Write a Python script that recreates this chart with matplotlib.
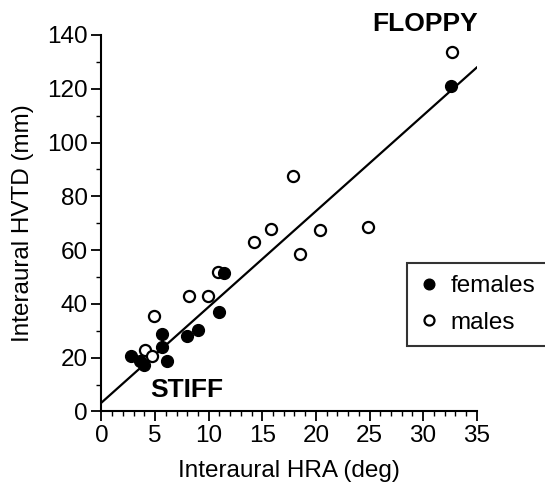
import matplotlib
matplotlib.use('Agg')
import matplotlib.pyplot as plt
import numpy as np

plt.rcParams['font.family'] = ['Liberation Sans', 'DejaVu Sans']

# males (open circles)
male_hra = [17.9, 15.8, 14.25, 20.4, 18.5, 24.9, 10.85, 8.2, 9.9, 4.9, 4.05, 4.7, 32.7]
male_hvtd = [87.7, 67.8, 63.1, 67.4, 58.7, 68.5, 51.7, 42.9, 42.9, 35.5, 22.9, 20.6, 133.6]

# females (filled circles)
female_hra = [11.45, 11.0, 5.65, 9.0, 8.0, 5.65, 2.8, 3.6, 4.0, 6.1, 32.6]
female_hvtd = [51.4, 36.9, 28.7, 30.3, 28.1, 24.1, 20.7, 18.6, 17.2, 18.9, 121.0]

# regression line
fit_slope = 3.56
fit_intercept = 3.3

fig = plt.figure(figsize=(5.45, 4.86), dpi=100)
ax = fig.add_axes([0.1862, 0.1533, 0.8747 - 0.1862, 0.928 - 0.1533])

xfit = np.array([0, 35])
ax.plot(xfit, fit_intercept + fit_slope * xfit, color='black', lw=1.6, zorder=1)

ax.plot(female_hra, female_hvtd, 'o', ms=8.5, color='black', mec='black',
        label='females', zorder=3, clip_on=False)
ax.plot(male_hra, male_hvtd, 'o', ms=8, mfc='white', mec='black', mew=1.6,
        label='males', zorder=2, clip_on=False)

ax.set_xlim(0, 35)
ax.set_ylim(0, 140)
ax.set_xticks(np.arange(0, 36, 5))
ax.set_xticks(np.arange(0, 36, 1), minor=True)
ax.set_yticks(np.arange(0, 141, 20))
ax.set_yticks(np.arange(0, 141, 10), minor=True)

for side in ['top', 'right']:
    ax.spines[side].set_visible(False)
for side in ['left', 'bottom']:
    ax.spines[side].set_linewidth(1.5)

ax.tick_params(which='major', direction='out', length=7, width=1.3, labelsize=17.5, pad=3)
ax.tick_params(which='minor', direction='out', length=3.5, width=1.0)

ax.set_xlabel('Interaural HRA (deg)', fontsize=17.5, labelpad=9)
ax.set_ylabel('Interaural HVTD (mm)', fontsize=17.5, labelpad=9)

ax.text(30.2, 144, 'FLOPPY', fontsize=19, fontweight='bold', ha='center', va='center')
ax.text(8.0, 8.1, 'STIFF', fontsize=19, fontweight='bold', ha='center', va='center')

leg = fig.legend(loc='upper left', bbox_to_anchor=(0.747, 0.459), fontsize=17.5,
                 frameon=True, fancybox=False, edgecolor='black', handlelength=0.8,
                 handletextpad=0.5, labelspacing=0.6, borderpad=0.5, markerscale=0.9,
                 borderaxespad=0)
leg.get_frame().set_linewidth(1.5)

fig.savefig('out.png', dpi=100)
